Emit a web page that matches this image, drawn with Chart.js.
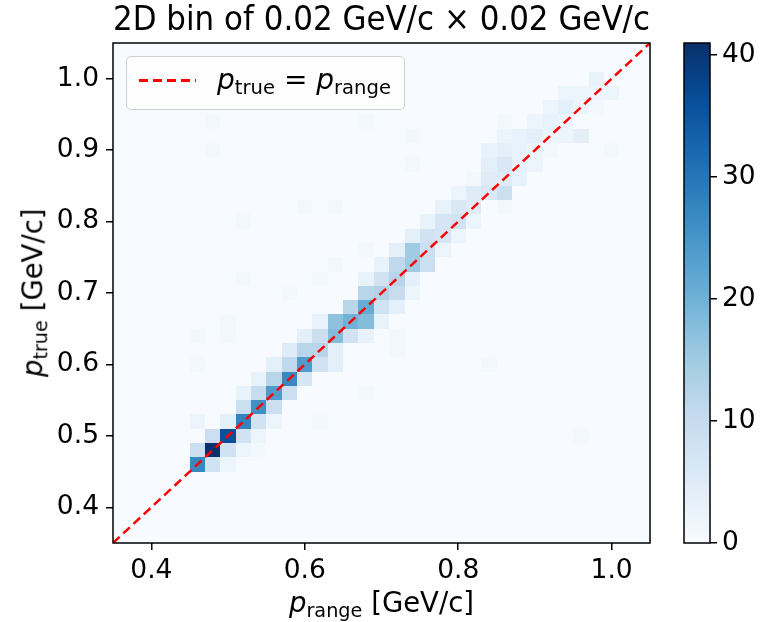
<!DOCTYPE html>
<html lang="en">
  <head>
    <meta charset="UTF-8" />
    <title>2D bin of 0.02 GeV/c × 0.02 GeV/c</title>
    <script src="https://cdn.jsdelivr.net/npm/chart.js@4"></script>
    <style>
      body {
        margin: 0;
        background: #fff;
        font-family: "DejaVu Sans", sans-serif;
      }
      #wrap {
        position: relative;
        width: 768px;
        height: 622px;
      }
      #wrap canvas {
        position: absolute;
        top: 0;
      }
      #main { left: 0; }
      #cbar { left: 660px; }

      .lbl {
        position: absolute;
        font-size: 27.5px;
        line-height: 27.5px;
        height: 27.5px;
        color: #000;
        white-space: nowrap;
        text-align: center;
      }
      .sub {
        font-size: 0.7em;
        vertical-align: -0.25em;
        line-height: 0;
      }
      #ylabel {
        width: 500px;
        left: -217px;
        top: 279px;
        transform: rotate(-90deg);
      }
      #xlabel {
        width: 537px;
        left: 113px;
        top: 589px;
      }

      #legend {
        position: absolute;
        left: 126px;
        top: 56px;
        width: 279px;
        height: 54px;
        box-sizing: border-box;
        border: 1.5px solid #d0d0d0;
        border-radius: 5px;
        background: rgba(255, 255, 255, 0.8);
      }
      #legend .handle {
        position: absolute;
        left: 12px;
        top: 22px;
        width: 57px;
        height: 2.5px;
        background: repeating-linear-gradient(to right, #ff0000 0 9px, transparent 9px 14px);
      }
      #legend .ltext {
        position: absolute;
        left: 90px;
        top: 9px;
        font-size: 28px;
        line-height: 28px;
        white-space: nowrap;
      }
    </style>
  </head>
  <body>
    <div id="wrap">
      <canvas id="main" width="768" height="622"></canvas>
      <canvas id="cbar" width="108" height="622"></canvas>

      <div id="legend">
        <div class="handle"></div>
        <span class="ltext"><i>p</i><span class="sub">true</span> = <i>p</i><span class="sub">range</span></span>
      </div>
      <div class="lbl" id="xlabel"><i>p</i><span class="sub">range</span> [GeV/c]</div>
      <div class="lbl" id="ylabel"><i>p</i><span class="sub">true</span> [GeV/c]</div>
    </div>

    <script>
      // axis setup
      const axisMin = 0.35;
      const axisMax = 1.05;
      const binWidth = 0.02;
      const xTicks = [0.4, 0.6, 0.8, 1.0];
      const yTicks = [0.4, 0.5, 0.6, 0.7, 0.8, 0.9, 1.0];
      const cbTicks = [0, 10, 20, 30, 40];
      const countMax = 41;

      // reference line p_true = p_range
      const diagX = [0.35, 1.05];
      const diagY = [0.35, 1.05];

      // non-empty bins (bin centres, counts), one line per p_range column
      const cellX = [
        0.46, 0.46, 0.46, 0.46, 0.46,
        0.48, 0.48, 0.48, 0.48, 0.48,
        0.50, 0.50, 0.50, 0.50, 0.50, 0.50,
        0.52, 0.52, 0.52, 0.52, 0.52, 0.52, 0.52,
        0.54, 0.54, 0.54, 0.54, 0.54, 0.54,
        0.56, 0.56, 0.56, 0.56, 0.56,
        0.58, 0.58, 0.58, 0.58, 0.58,
        0.60, 0.60, 0.60, 0.60, 0.60,
        0.62, 0.62, 0.62, 0.62, 0.62, 0.62,
        0.64, 0.64, 0.64, 0.64, 0.64, 0.64,
        0.66, 0.66, 0.66,
        0.68, 0.68, 0.68, 0.68, 0.68, 0.68, 0.68, 0.68,
        0.70, 0.70, 0.70, 0.70, 0.70,
        0.72, 0.72, 0.72, 0.72, 0.72, 0.72, 0.72,
        0.74, 0.74, 0.74, 0.74, 0.74, 0.74, 0.74,
        0.76, 0.76, 0.76, 0.76,
        0.78, 0.78, 0.78, 0.78,
        0.80, 0.80, 0.80, 0.80,
        0.82, 0.82, 0.82, 0.82,
        0.84, 0.84, 0.84, 0.84, 0.84,
        0.86, 0.86, 0.86, 0.86, 0.86, 0.86, 0.86,
        0.88, 0.88, 0.88, 0.88,
        0.90, 0.90, 0.90, 0.90,
        0.92, 0.92, 0.92, 0.92,
        0.94, 0.94, 0.94, 0.94,
        0.96, 0.96, 0.96, 0.96,
        0.98, 0.98, 0.98,
        1.00, 1.00,
      ];
      const cellY = [
        0.46, 0.48, 0.52, 0.60, 0.64,
        0.46, 0.48, 0.50, 0.90, 0.94,
        0.46, 0.48, 0.50, 0.52, 0.64, 0.66,
        0.48, 0.50, 0.52, 0.54, 0.56, 0.72, 0.80,
        0.48, 0.50, 0.52, 0.54, 0.56, 0.58,
        0.52, 0.54, 0.56, 0.58, 0.60,
        0.56, 0.58, 0.60, 0.62, 0.70,
        0.58, 0.60, 0.62, 0.64, 0.82,
        0.52, 0.60, 0.62, 0.64, 0.66, 0.72,
        0.60, 0.62, 0.64, 0.66, 0.74, 0.82,
        0.64, 0.66, 0.68,
        0.56, 0.64, 0.66, 0.68, 0.70, 0.72, 0.76, 0.94,
        0.66, 0.68, 0.70, 0.72, 0.74,
        0.62, 0.64, 0.68, 0.70, 0.72, 0.74, 0.76,
        0.70, 0.72, 0.74, 0.76, 0.78, 0.88, 0.92,
        0.74, 0.76, 0.78, 0.80,
        0.76, 0.78, 0.80, 0.82,
        0.78, 0.80, 0.82, 0.84,
        0.80, 0.82, 0.84, 0.86,
        0.60, 0.84, 0.86, 0.88, 0.90,
        0.82, 0.84, 0.86, 0.88, 0.90, 0.92, 0.94,
        0.86, 0.88, 0.90, 0.92,
        0.88, 0.90, 0.92, 0.94,
        0.90, 0.92, 0.94, 0.96,
        0.92, 0.94, 0.96, 0.98,
        0.50, 0.92, 0.96, 0.98,
        0.96, 0.98, 1.00,
        0.90, 0.98,
      ];
      const cellCount = [
        27, 9, 2, 1, 1,
        8, 41, 9, 1, 1,
        2, 8, 36, 4, 1, 1,
        2, 8, 28, 9, 3, 1, 1,
        1, 2, 8, 26, 10, 3,
        2, 9, 24, 12, 4,
        9, 27, 11, 5, 1,
        7, 24, 12, 4, 1,
        1, 8, 12, 9, 3, 1,
        4, 4, 18, 17, 1, 1,
        8, 20, 12,
        1, 3, 18, 21, 12, 3, 1, 1,
        3, 8, 13, 8, 3,
        1, 1, 4, 10, 12, 11, 4,
        2, 4, 15, 15, 4, 1, 1,
        9, 9, 8, 3,
        2, 7, 7, 3,
        2, 8, 6, 2,
        2, 5, 5, 1,
        1, 6, 5, 4, 3,
        1, 9, 5, 6, 4, 2, 1,
        3, 3, 3, 3,
        2, 2, 4, 2,
        1, 2, 3, 2,
        2, 2, 4, 2,
        1, 4, 2, 2,
        1, 2, 3,
        1, 2,
      ];

      const fontFamily = '"DejaVu Sans", sans-serif';
      const tickFont = { family: fontFamily, size: 26.5 };

      // matplotlib "Blues"
      const blues = ["#f7fbff", "#deebf7", "#c6dbef", "#9ecae1", "#6baed6", "#4292c6", "#2171b5", "#08519c", "#08306b"];

      function hexRgb(h) {
        return [1, 3, 5].map((k) => parseInt(h.slice(k, k + 2), 16));
      }

      function blue(t) {
        t = Math.max(0, Math.min(1, t));
        const p = t * (blues.length - 1);
        const k = Math.min(Math.floor(p), blues.length - 2);
        const f = p - k;
        const a = hexRgb(blues[k]);
        const b = hexRgb(blues[k + 1]);
        return "rgb(" + a.map((v, m) => Math.round(v + (b[m] - v) * f)).join(",") + ")";
      }

      function drawFrame(chart) {
        const { ctx, chartArea: a } = chart;
        ctx.save();
        ctx.strokeStyle = "#000";
        ctx.lineWidth = 1.5;
        ctx.strokeRect(a.left, a.top, a.width, a.height);
        ctx.restore();
      }

      const heatmap = {
        id: "heatmap",
        beforeDatasetsDraw(chart) {
          const { ctx, chartArea: a, scales } = chart;
          const x = scales.x;
          const y = scales.y;
          ctx.save();
          ctx.beginPath();
          ctx.rect(a.left, a.top, a.width, a.height);
          ctx.clip();
          ctx.fillStyle = blue(0);
          ctx.fillRect(a.left, a.top, a.width, a.height);
          cellX.forEach((cx, k) => {
            const x0 = Math.round(x.getPixelForValue(cx - binWidth / 2));
            const x1 = Math.round(x.getPixelForValue(cx + binWidth / 2));
            const y0 = Math.round(y.getPixelForValue(cellY[k] + binWidth / 2));
            const y1 = Math.round(y.getPixelForValue(cellY[k] - binWidth / 2));
            ctx.fillStyle = blue(cellCount[k] / countMax);
            ctx.fillRect(x0, y0, x1 - x0, y1 - y0);
          });
          ctx.restore();
        },
        afterDatasetsDraw: drawFrame,
      };

      const colorbar = {
        id: "colorbar",
        beforeDatasetsDraw(chart) {
          const { ctx, chartArea: a, scales } = chart;
          const y = scales.y;
          const g = ctx.createLinearGradient(0, y.getPixelForValue(0), 0, y.getPixelForValue(countMax));
          blues.forEach((c, k) => g.addColorStop(k / (blues.length - 1), c));
          ctx.save();
          ctx.fillStyle = g;
          ctx.fillRect(a.left, a.top, a.width, a.height);
          ctx.restore();
        },
        afterDatasetsDraw: drawFrame,
      };

      const axisGrid = { drawOnChartArea: false, tickLength: 7, color: "#000", lineWidth: 1.5 };

      new Chart(document.getElementById("main"), {
        type: "scatter",
        data: {
          datasets: [
            {
              label: "p_true = p_range",
              data: diagX.map((v, k) => ({ x: v, y: diagY[k] })),
              showLine: true,
              borderColor: "#ff0000",
              borderWidth: 2.5,
              borderDash: [9, 5],
              pointRadius: 0,
              fill: false,
            },
          ],
        },
        options: {
          responsive: false,
          animation: false,
          devicePixelRatio: 1,
          layout: { padding: { top: 0, right: 118, bottom: 0, left: 0 } },
          plugins: {
            legend: { display: false },
            tooltip: { enabled: false },
            title: {
              display: true,
              text: "2D bin of 0.02 GeV/c × 0.02 GeV/c",
              fullSize: false,
              color: "#000",
              font: { family: fontFamily, size: 33.5, weight: "normal", lineHeight: 1 },
              padding: { top: 5, bottom: 4.5 },
            },
          },
          scales: {
            x: {
              type: "linear",
              min: axisMin,
              max: axisMax,
              afterBuildTicks: (s) => {
                s.ticks = xTicks.map((v) => ({ value: v }));
              },
              afterFit: (s) => {
                s.height = 79;
              },
              ticks: { callback: (v) => v.toFixed(1), font: tickFont, color: "#000", padding: 5, maxRotation: 0 },
              grid: axisGrid,
              border: { display: false },
            },
            y: {
              type: "linear",
              min: axisMin,
              max: axisMax,
              afterBuildTicks: (s) => {
                s.ticks = yTicks.map((v) => ({ value: v }));
              },
              afterFit: (s) => {
                s.width = 113;
              },
              ticks: { callback: (v) => v.toFixed(1), font: tickFont, color: "#000", padding: 7 },
              grid: axisGrid,
              border: { display: false },
            },
          },
        },
        plugins: [heatmap],
      });

      new Chart(document.getElementById("cbar"), {
        type: "scatter",
        data: { datasets: [] },
        options: {
          responsive: false,
          animation: false,
          devicePixelRatio: 1,
          layout: { padding: { top: 43, right: 0, bottom: 79, left: 24 } },
          plugins: {
            legend: { display: false },
            tooltip: { enabled: false },
          },
          scales: {
            x: { display: false, min: 0, max: 1 },
            y: {
              position: "right",
              min: 0,
              max: countMax,
              afterBuildTicks: (s) => {
                s.ticks = cbTicks.map((v) => ({ value: v }));
              },
              afterFit: (s) => {
                s.width = 58;
              },
              ticks: { callback: (v) => String(v), font: tickFont, color: "#000", padding: 5 },
              grid: axisGrid,
              border: { display: false },
            },
          },
        },
        plugins: [colorbar],
      });
    </script>
  </body>
</html>
